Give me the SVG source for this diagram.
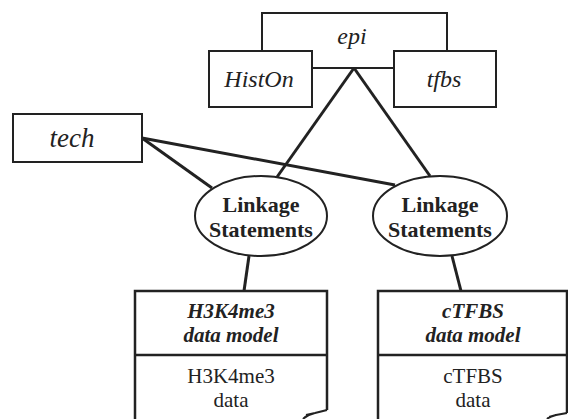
<svg xmlns="http://www.w3.org/2000/svg" width="568" height="419" viewBox="0 0 568 419">
<style>
.box{fill:#fff;stroke:#222;stroke-width:2}
.conn{stroke:#222;stroke-width:3;fill:none}
.it{font-style:italic;font-size:24px}
.bd{font-weight:bold;font-size:22px}
.bi{font-weight:bold;font-style:italic;font-size:21px}
.rg{font-size:21px}
.doc{fill:#fff;stroke:#222;stroke-width:2.5}
.curl{fill:none;stroke:#222;stroke-width:2}
</style>
<rect width="568" height="419" fill="#fff"/>
<g id="connectors">
<line class="conn" x1="354" y1="68" x2="277" y2="177"/>
<line class="conn" x1="354" y1="68" x2="430" y2="176"/>
<line class="conn" x1="142" y1="138" x2="212" y2="188"/>
<line class="conn" x1="142" y1="138" x2="395" y2="185"/>
<line class="conn" x1="249" y1="256" x2="244" y2="291"/>
<line class="conn" x1="452" y1="256" x2="461" y2="291"/>
</g>
<g font-family="Liberation Serif, Tinos, Times New Roman, DejaVu Serif, serif" fill="#222" text-anchor="middle">
<g id="epi">
<rect class="box" x="262" y="13" width="185" height="55"/>
<text class="it" x="352" y="44">epi</text>
</g>
<g id="histon">
<rect class="box" x="209" y="51" width="103" height="56"/>
<text class="it" x="259" y="87">HistOn</text>
</g>
<g id="tech">
<rect class="box" x="13" y="114" width="129" height="48"/>
<text class="it" x="72" y="147" style="font-size:27px">tech</text>
</g>
<g id="tfbs">
<rect class="box" x="394" y="51" width="102" height="56"/>
<text class="it" x="444" y="87">tfbs</text>
</g>
<g id="linkage-left">
<ellipse class="box" cx="261" cy="216" rx="66" ry="40"/>
<text class="bd" x="261" y="212">Linkage</text>
<text class="bd" x="261" y="237">Statements</text>
</g>
<g id="linkage-right">
<ellipse class="box" cx="440" cy="216" rx="67" ry="40"/>
<text class="bd" x="440" y="212">Linkage</text>
<text class="bd" x="440" y="237">Statements</text>
</g>
<g id="h3k4me3">
<path class="doc" d="M135,421 L135,291 L327,291 L327,410"/>
<line class="doc" x1="135" y1="355" x2="327" y2="355"/>
<path class="curl" d="M327,410 L315,413 C310,414 306,416 303,419 M315,413 L306,415"/>
<text class="bi" x="231" y="318">H3K4me3</text>
<text class="bi" x="231" y="342">data model</text>
<text class="rg" x="231" y="383">H3K4me3</text>
<text class="rg" x="231" y="407">data</text>
</g>
<g id="ctfbs">
<path class="doc" d="M378,421 L378,291 L567,291 L567,413"/>
<line class="doc" x1="378" y1="355" x2="567" y2="355"/>
<path class="curl" d="M567,413 L556,415 C552,416 549,417 547,419 M556,415 L549,417"/>
<text class="bi" x="473" y="318">cTFBS</text>
<text class="bi" x="473" y="342">data model</text>
<text class="rg" x="473" y="383">cTFBS</text>
<text class="rg" x="473" y="407">data</text>
</g>
</g>
</svg>
